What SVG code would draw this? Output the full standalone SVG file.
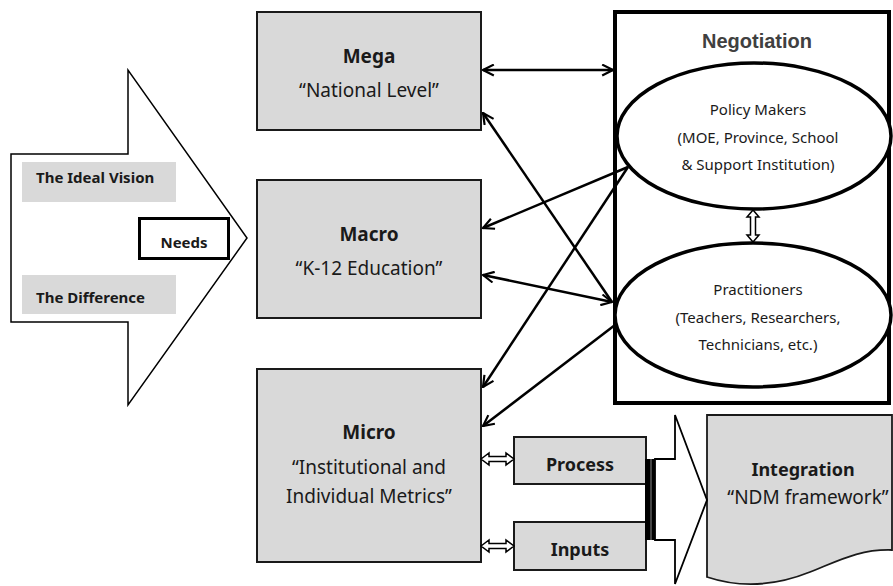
<svg xmlns="http://www.w3.org/2000/svg" width="893" height="586" viewBox="0 0 893 586">
<defs>
<style>
.gbox{fill:#d9d9d9;stroke:#1a1a1a;stroke-width:2}
.lbl{fill:#d9d9d9;stroke:none}
.t{font-family:"Noto Sans","Open Sans",sans-serif;fill:#1a1a1a;text-anchor:middle}
.ls{text-anchor:start}
.b{font-weight:bold}
.r19{font-size:19px}
.s15{font-size:15px}
.conn line{stroke:#000;stroke-width:2.5;fill:none}
.hollow{fill:#fff;stroke:#000;stroke-width:1.5}
</style>
<marker id="ah" viewBox="0 0 12 12" refX="11" refY="6" markerWidth="13" markerHeight="13" markerUnits="userSpaceOnUse" orient="auto-start-reverse">
<path d="M1,1 L11,6 L1,11" fill="none" stroke="#000" stroke-width="2"/>
</marker>
</defs>
<rect width="893" height="586" fill="#fff"/>

<g id="needs-arrow">
<polygon points="11,154 128,154 128,70 247,238 128,405 128,322 11,322" fill="#fff" stroke="#000" stroke-width="1.5"/>
<rect class="lbl" x="22" y="162" width="154" height="40"/>
<text class="t ls b" x="36" y="183" font-size="15">The Ideal Vision</text>
<rect class="lbl" x="22" y="275" width="154" height="39"/>
<text class="t ls b" x="36" y="303" font-size="15">The Difference</text>
</g>
<g id="needs">
<rect x="139.5" y="218.5" width="89" height="40" fill="#fff" stroke="#000" stroke-width="3"/>
<text class="t b" x="184" y="248" font-size="15">Needs</text>
</g>

<g id="mega">
<rect class="gbox" x="257" y="12" width="224" height="118"/>
<text class="t b r19" x="369" y="63">Mega</text>
<text class="t r19" x="369" y="97">“National Level”</text>
</g>
<g id="macro">
<rect class="gbox" x="257" y="180" width="224" height="138"/>
<text class="t b r19" x="369" y="241">Macro</text>
<text class="t r19" x="369" y="275">“K-12 Education”</text>
</g>
<g id="micro">
<rect class="gbox" x="257" y="369" width="224" height="193"/>
<text class="t b r19" x="369" y="439">Micro</text>
<text class="t r19" x="369" y="474">“Institutional and</text>
<text class="t r19" x="369" y="503">Individual Metrics”</text>
</g>
<g id="process">
<rect class="gbox" x="514" y="437" width="132" height="47"/>
<text class="t b" x="580" y="471" font-size="18">Process</text>
</g>
<g id="inputs">
<rect class="gbox" x="514" y="522" width="132" height="48"/>
<text class="t b" x="580" y="556" font-size="18">Inputs</text>
</g>

<g id="negotiation">
<rect x="615" y="12" width="274" height="391" fill="#fff" stroke="#000" stroke-width="4"/>
<text x="757" y="48" font-family="'Liberation Sans',Arial,sans-serif" font-weight="bold" font-size="20" fill="#404040" text-anchor="middle">Negotiation</text>
</g>
<g id="policy-makers">
<ellipse cx="754" cy="136" rx="137" ry="73" fill="#fff" stroke="#000" stroke-width="3.5"/>
<text class="t s15" x="758" y="115">Policy Makers</text>
<text class="t s15" x="758" y="143">(MOE, Province, School</text>
<text class="t s15" x="758" y="170">&amp; Support Institution)</text>
</g>
<g id="practitioners">
<ellipse cx="753" cy="315" rx="138" ry="72" fill="#fff" stroke="#000" stroke-width="3.5"/>
<text class="t s15" x="758" y="295">Practitioners</text>
<text class="t s15" x="758" y="323">(Teachers, Researchers,</text>
<text class="t s15" x="758" y="350">Technicians, etc.)</text>
</g>

<g id="integration">
<path d="M707,415 H892 V550 C860,549 840,560 810,572 C775,586 740,588 707,577 Z" fill="#d9d9d9" stroke="#1a1a1a" stroke-width="1.8"/>
<text class="t b" x="803" y="476" font-size="18">Integration</text>
<text class="t r19" x="808" y="504">“NDM framework”</text>
</g>

<g id="connectors">
<g class="conn">
<line x1="483" y1="70" x2="613" y2="70" marker-start="url(#ah)" marker-end="url(#ah)"/>
<line x1="612" y1="302" x2="483" y2="113" marker-end="url(#ah)"/>
<line x1="483" y1="275" x2="612" y2="302" marker-start="url(#ah)" marker-end="url(#ah)"/>
<line x1="628" y1="167" x2="483" y2="228" marker-end="url(#ah)"/>
<line x1="628" y1="167" x2="483" y2="387" marker-end="url(#ah)"/>
<line x1="615" y1="325" x2="483" y2="426" marker-end="url(#ah)"/>
</g>
<polygon class="hollow" points="753,210 747,217 750.5,217 750.5,235 747,235 753,242 759,235 755.5,235 755.5,217 759,217"/>
<polygon class="hollow" points="481,459 489,453 489,456.5 506,456.5 506,453 514,459 506,465 506,461.5 489,461.5 489,465"/>
<polygon class="hollow" points="481,546 489,540 489,543.5 506,543.5 506,540 514,546 506,552 506,548.5 489,548.5 489,552"/>
<rect x="645" y="459" width="10" height="81" fill="#000"/>
<line x1="651" y1="459" x2="651" y2="540" stroke="#888" stroke-width="1"/>
<polygon points="655,459 675,459 675,415 707,500 675,584 675,540 655,540" fill="#fff" stroke="#000" stroke-width="1.8"/>
</g>
</svg>
